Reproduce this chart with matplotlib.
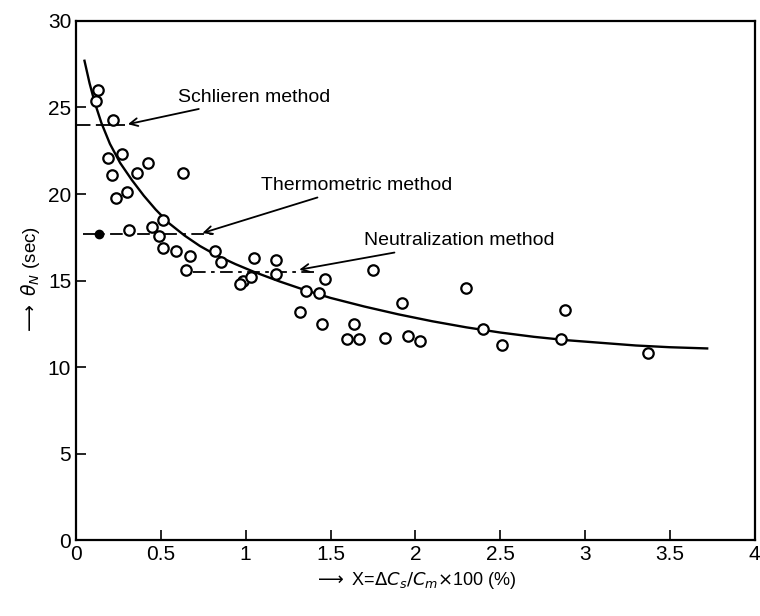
import numpy as np
import matplotlib.pyplot as plt

# measured points (open circles)
x_pts = [0.13, 0.118, 0.22, 0.186, 0.27, 0.21, 0.357, 0.425, 0.63, 0.233, 0.30,
         0.31, 0.445, 0.514, 0.49, 0.514, 0.59, 0.67, 0.647, 0.82, 0.857, 0.985,
         1.05, 1.18, 1.18, 1.03, 0.965, 1.465, 1.75, 1.357, 1.435, 1.32, 1.45,
         1.64, 1.60, 1.665, 1.82, 1.92, 1.955, 2.03, 2.30, 2.40, 2.51, 2.88,
         2.86, 3.37]
y_pts = [26.0, 25.4, 24.3, 22.1, 22.3, 21.1, 21.2, 21.8, 21.2, 19.8, 20.1,
         17.9, 18.1, 18.5, 17.6, 16.9, 16.7, 16.4, 15.6, 16.7, 16.1, 15.0,
         16.3, 16.2, 15.4, 15.2, 14.8, 15.1, 15.6, 14.4, 14.3, 13.2, 12.5,
         12.5, 11.6, 11.6, 11.7, 13.7, 11.8, 11.5, 14.6, 12.2, 11.3, 13.3,
         11.6, 10.8]

# fitted curve
x_fit = [0.05, 0.08, 0.11, 0.15, 0.20, 0.26, 0.33, 0.40, 0.47, 0.55, 0.64,
         0.73, 0.83, 0.94, 1.05, 1.20, 1.35, 1.50, 1.70, 1.90, 2.10, 2.30,
         2.50, 2.70, 2.90, 3.10, 3.30, 3.50, 3.72]
y_fit = [27.7, 26.4, 25.3, 24.1, 22.9, 21.8, 20.8, 19.9, 19.1, 18.3, 17.6,
         17.0, 16.45, 15.95, 15.5, 14.95, 14.45, 14.0, 13.5, 13.05, 12.65, 12.3,
         12.0, 11.75, 11.55, 11.4, 11.25, 11.15, 11.08]

# method levels
schlieren_x = [0.0, 0.29]
schlieren_y = [24.0, 24.0]
thermo_x = [0.04, 0.82]
thermo_y = [17.7, 17.7]
thermo_dot = (0.137, 17.7)
neutral_x = [0.69, 1.41]
neutral_y = [15.5, 15.5]

plt.rcParams['font.family'] = ['Liberation Sans', 'DejaVu Sans']
plt.rcParams['mathtext.fontset'] = 'dejavusans'

fig = plt.figure(figsize=(7.6, 6.16), dpi=100)
ax = fig.add_axes([0.1, 0.123, 0.893, 0.843])

ax.plot(x_fit, y_fit, color='black', lw=1.7)
ax.plot(x_pts, y_pts, 'o', mfc='white', mec='black', ms=7.5, mew=1.6, zorder=3)

ax.plot(schlieren_x, schlieren_y, color='black', lw=1.3, dashes=(8, 3))
ax.plot(thermo_x, thermo_y, color='black', lw=1.3, dashes=(7, 3, 2, 3))
ax.plot(*thermo_dot, 'o', color='black', ms=6)
ax.plot(neutral_x, neutral_y, color='black', lw=1.3, dashes=(7, 3, 2, 3))

arrow = dict(arrowstyle='->', color='black', lw=1.3)
ax.annotate('Schlieren method', xy=(0.29, 24.0), xytext=(0.6, 25.6),
            fontsize=14, va='center', ha='left', arrowprops=arrow)
ax.annotate('Thermometric method', xy=(0.73, 17.7), xytext=(1.09, 20.5),
            fontsize=14, va='center', ha='left', arrowprops=arrow)
ax.annotate('Neutralization method', xy=(1.3, 15.6), xytext=(1.7, 17.3),
            fontsize=14, va='center', ha='left', arrowprops=arrow)

ax.set_xlim(0, 4)
ax.set_ylim(0, 30)
ax.set_xticks(np.arange(0, 4.01, 0.5))
ax.set_xticklabels(['0', '0.5', '1', '1.5', '2', '2.5', '3', '3.5', '4'])
ax.set_yticks(np.arange(0, 31, 5))
ax.tick_params(direction='in', length=7, width=1.2, labelsize=15)
for s in ax.spines.values():
    s.set_linewidth(1.6)

ax.set_xlabel(r'$\longrightarrow$ X=$\Delta C_s/C_m$$\times$100 (%)', fontsize=13)
ax.set_ylabel(r'$\longrightarrow$ $\theta_N$ (sec)', fontsize=13.5)

fig.savefig('out.png', dpi=100)
